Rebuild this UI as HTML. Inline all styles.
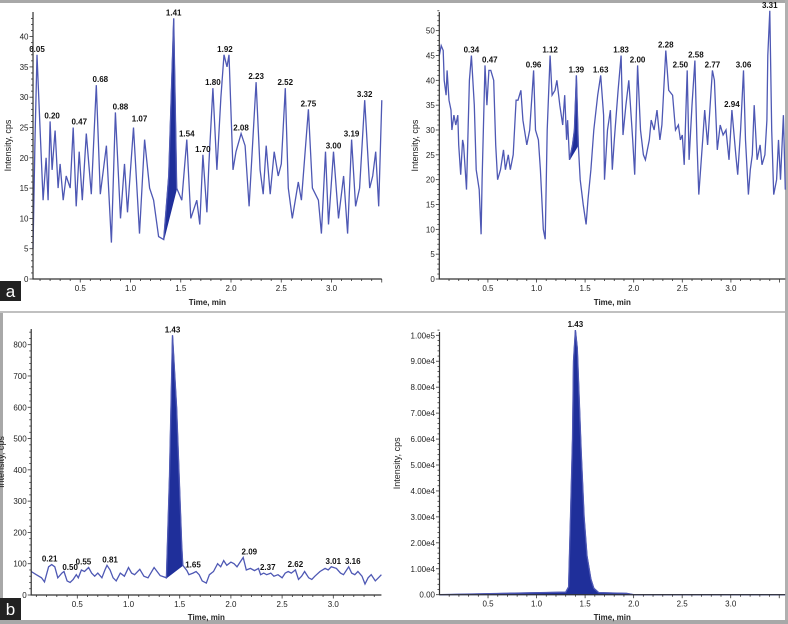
<!DOCTYPE html>
<html><head><meta charset="utf-8"><style>
body{margin:0;background:#fff;}
svg{display:block;font-family:"Liberation Sans",sans-serif;}
</style></head><body>
<svg id="fig" width="788" height="624" viewBox="0 0 788 624">
<rect x="0" y="0" width="788" height="624" fill="#fff"/>
<rect x="0" y="0" width="788" height="3" fill="#a8a8a8"/>
<rect x="0" y="311" width="788" height="2" fill="#c0c0c0"/>
<rect x="785" y="0" width="3" height="624" fill="#b0b0b0"/>
<rect x="0" y="313" width="3" height="311" fill="#a8a8a8"/>
<rect x="0" y="620" width="788" height="4" fill="#a8a8a8"/>
<g id="panels"></g>
<rect x="0" y="281" width="21" height="20" fill="#222"/>
<text x="10.5" y="297" font-size="17" fill="#fff" text-anchor="middle">a</text>
<rect x="0" y="598" width="21" height="22" fill="#222"/>
<text x="10.5" y="615" font-size="17" fill="#fff" text-anchor="middle">b</text>
</svg>
<script>
// Panel a-left
const aLeftT=[0.03,0.05,0.07,0.10,0.13,0.16,0.18,0.20,0.22,0.25,0.28,0.30,0.33,0.36,0.40,0.43,0.46,0.49,0.52,0.56,0.61,0.66,0.70,0.76,0.81,0.85,0.90,0.94,0.97,1.03,1.09,1.14,1.19,1.23,1.28,1.33,1.38,1.43,1.46,1.51,1.56,1.60,1.66,1.69,1.72,1.76,1.78,1.82,1.86,1.90,1.93,1.96,1.98,2.02,2.05,2.10,2.14,2.18,2.25,2.29,2.32,2.35,2.39,2.43,2.47,2.50,2.54,2.57,2.61,2.67,2.70,2.77,2.81,2.87,2.90,2.94,2.97,3.02,3.07,3.12,3.16,3.20,3.24,3.28,3.33,3.38,3.41,3.44,3.47,3.50];
const aLeftV=[5,23,37,25,13,20,13,26,18,24.5,15,19,13,17,15,25,12,21,13,24,14,32,14,22,6,27.5,10,19,11,25,7.5,23,15,13,7,6.5,17,43,15,13,23,10,13,9,20.5,11,19,31.5,18,30,37,35,37,18,21,24,22,12,32.5,18,14,22,14,21,17,19,31.5,15,10,16,13,28,15,13,7.5,21,9,21,10,17,7.5,23,12,15,29.5,15,17,21,12,29.5];
const aLeftLabT=[0.05,0.20,0.47,0.68,0.88,1.07,1.41,1.54,1.70,1.80,1.92,2.08,2.23,2.52,2.75,3.00,3.19,3.32];
const aLeftLabV=[37,26,25,32,27.5,25.5,43,23,20.5,31.5,37,24,32.5,31.5,28,21,23,29.5];
const aLeftLabX=[0.07,0.22,0.49,0.70,0.90,1.09,1.43,1.56,1.72,1.82,1.94,2.10,2.25,2.54,2.77,3.02,3.20,3.33];
// Panel a-right
const aRightT=[0.00,0.02,0.04,0.05,0.07,0.08,0.10,0.12,0.13,0.15,0.17,0.19,0.20,0.22,0.24,0.25,0.28,0.31,0.33,0.36,0.38,0.41,0.43,0.44,0.47,0.49,0.51,0.53,0.56,0.58,0.60,0.63,0.66,0.68,0.71,0.73,0.76,0.79,0.81,0.84,0.86,0.90,0.93,0.97,0.99,1.02,1.04,1.07,1.09,1.11,1.14,1.16,1.19,1.21,1.24,1.27,1.29,1.31,1.32,1.34,1.37,1.39,1.41,1.43,1.45,1.48,1.51,1.53,1.56,1.59,1.63,1.66,1.69,1.70,1.73,1.76,1.78,1.80,1.84,1.87,1.89,1.92,1.95,1.99,2.01,2.04,2.07,2.10,2.12,2.16,2.18,2.21,2.24,2.27,2.29,2.33,2.36,2.40,2.43,2.46,2.48,2.50,2.52,2.55,2.57,2.60,2.63,2.65,2.67,2.71,2.73,2.76,2.81,2.83,2.86,2.89,2.92,2.95,2.98,3.01,3.05,3.07,3.10,3.13,3.15,3.18,3.20,3.22,3.24,3.27,3.30,3.32,3.35,3.37,3.38,3.40,3.42,3.44,3.47,3.49,3.51,3.54,3.56];
const aRightV=[45,47,46,40,37,42,36,34,30,33,31,33,27,21,28,27,18,40,45,35,22,18,9,20,43,35,42,42,40,27,20,22,26,22,25,22,25,36,36,38,32,27,30,42,30,28,22,10,8,30,45,37,38,40,35,31,37,28,32,24,27,30,41,27,20,15,11,16,22,30,37,41,33,20,30,34,22,28,38,45,29,35,40,28,21,43,30,25,24,28,32,30,34,28,31,46,38,37,30,31,28,29,23,42,24,35,44,28,17,28,34,27,42,40,26,31,29,30,24,34,25,21,30,42,28,17,22,25,35,24,27,23,25,32,45,54,30,17,20,28,20,33,18];
const aRightLabT=[0.34,0.47,0.96,1.12,1.39,1.63,1.83,2.00,2.28,2.50,2.58,2.77,2.94,3.06,3.31];
const aRightLabV=[45,43,42,45,41,41,45,43,46,42,44,42,34,42,54];
const aRightLabX=[0.33,0.52,0.97,1.14,1.41,1.66,1.87,2.04,2.33,2.48,2.64,2.81,3.01,3.13,3.40];
// Panel b-left
const bLeftT=[0.05,0.10,0.15,0.18,0.22,0.25,0.28,0.31,0.35,0.37,0.40,0.43,0.46,0.49,0.51,0.54,0.57,0.61,0.64,0.67,0.70,0.74,0.77,0.79,0.82,0.85,0.88,0.92,0.96,1.00,1.03,1.06,1.11,1.15,1.19,1.25,1.31,1.37,1.40,1.43,1.47,1.52,1.53,1.57,1.59,1.63,1.66,1.69,1.72,1.76,1.79,1.83,1.87,1.90,1.93,1.96,2.00,2.03,2.06,2.09,2.12,2.15,2.19,2.23,2.27,2.29,2.32,2.35,2.39,2.42,2.46,2.50,2.53,2.56,2.59,2.63,2.66,2.69,2.72,2.76,2.79,2.82,2.87,2.92,2.95,2.98,3.03,3.07,3.10,3.15,3.18,3.21,3.24,3.28,3.31,3.34,3.37,3.41,3.44,3.47];
const bLeftV=[75,65,55,42,90,97,90,55,70,75,45,40,50,65,55,80,75,88,70,60,70,55,80,95,80,55,45,70,60,88,70,65,82,60,55,88,62,55,380,830,600,160,95,78,65,70,75,65,45,38,65,75,100,90,110,95,105,100,90,105,120,80,85,78,85,65,70,65,70,60,65,55,70,75,70,80,50,60,75,55,50,60,75,85,80,90,85,70,65,90,70,65,75,60,35,55,65,45,55,65];
const bLeftLabT=[0.21,0.50,0.55,0.81,1.43,1.65,2.09,2.37,2.62,3.01,3.16];
const bLeftLabV=[97,70,88,95,830,78,120,70,80,90,90];
const bLeftLabX=[0.23,0.43,0.56,0.82,1.43,1.63,2.18,2.36,2.63,3.00,3.19];
// Panel b-right
const bRightT=[0.00,1.30,1.33,1.35,1.37,1.38,1.40,1.42,1.46,1.49,1.52,1.56,1.59,1.64,1.93,2.00,3.56];
const bRightV=[0,1000,3000,30000,60000,90000,102000,95000,55000,30000,15000,6000,2500,800,500,0,0];
const bRightLabT=[1.43];
const bRightLabV=[102000];
const bRightLabX=[1.40];
// Tick labels
const tickXLabels=["0.5","1.0","1.5","2.0","2.5","3.0"];
const tickXValues=[0.5,1.0,1.5,2.0,2.5,3.0];
const aLeftYTicks=[0,5,10,15,20,25,30,35,40];
const aRightYTicks=[0,5,10,15,20,25,30,35,40,45,50];
const bLeftYTicks=[0,100,200,300,400,500,600,700,800];
const bRightYTicks=[0,10000,20000,30000,40000,50000,60000,70000,80000,90000,100000];
const bRightYLabels=["0.00","1.00e4","2.00e4","3.00e4","4.00e4","5.00e4","6.00e4","7.00e4","8.00e4","9.00e4","1.00e5"];

const NS="http://www.w3.org/2000/svg";
const root=document.getElementById('panels');
function mk(tag,attrs,parent){const e=document.createElementNS(NS,tag);for(const k in attrs)e.setAttribute(k,attrs[k]);parent.appendChild(e);return e;}

function panel(cfg){
  const g=mk('g',{},root);
  
  
  const X=t=>cfg.x0+cfg.sx*t, Y=v=>cfg.y0-cfg.sy*v;
  const xa=X(cfg.tmin), xb=X(cfg.tmax);
  if(cfg.fill){
    const [f0,f1]=cfg.fill;
    let pts=[];
    for(let i=0;i<cfg.T.length;i++){if(cfg.T[i]>=f0-1e-9&&cfg.T[i]<=f1+1e-9)pts.push(X(cfg.T[i]).toFixed(1)+','+Y(cfg.V[i]).toFixed(1));}
    if(!cfg.fillBase){pts.push(X(f1).toFixed(1)+','+Y(0).toFixed(1));pts.unshift(X(f0).toFixed(1)+','+Y(0).toFixed(1));}
    const p=mk('polygon',{points:pts.join(' '),fill:'#1f2f9a',stroke:'#1f2f9a','stroke-width':1},g);
    
    
  }
  const d=cfg.T.map((t,i)=>(i?'L':'M')+X(t).toFixed(1)+' '+Y(cfg.V[i]).toFixed(1)).join(' ');
  const line=mk('path',{d:d,fill:'none',stroke:'#4e58b4','stroke-width':1.3},g);
  
  
  const ax=mk('path',{d:`M${xa} ${cfg.ytop} L${xa} ${cfg.y0} L${xb} ${cfg.y0}`,fill:'none',stroke:'#333','stroke-width':1.2},g);
  
  
  for(let k=1;k<=35;k++){const t=k/10;if(t<cfg.tmin||t>cfg.tmax)continue;
    const tk=mk('line',{x1:X(t),x2:X(t),y1:cfg.y0,y2:cfg.y0+(k%5===0?3.5:2),stroke:'#333','stroke-width':0.8},g);
    
    }
  tickXValues.forEach((t,i)=>{const tx=mk('text',{x:X(t),y:cfg.y0+12,'font-size':8,'text-anchor':'middle',fill:'#222'},g);tx.textContent=tickXLabels[i];
    
    });
  const st=cfg.yticks[1]-cfg.yticks[0];
  for(let v=0;v<=cfg.ymax+1e-9;v+=st/5){
    const major=Math.abs(v/st-Math.round(v/st))<1e-6;
    const tk=mk('line',{x1:xa-(major?3.5:2),x2:xa,y1:Y(v),y2:Y(v),stroke:'#333','stroke-width':0.8},g);
    
    }
  cfg.yticks.forEach((v,i)=>{const tx=mk('text',{x:xa-4.5,y:Y(v)+3,'font-size':8,'text-anchor':'end',fill:'#222'},g);tx.textContent=cfg.ylabels?cfg.ylabels[i]:String(v);
    
    });
  const yt=mk('text',{x:cfg.ytx,y:(cfg.ytop+cfg.y0)/2,'font-size':9,'text-anchor':'middle',fill:'#222',transform:`rotate(-90 ${cfg.ytx} ${(cfg.ytop+cfg.y0)/2})`},g);
  yt.textContent='Intensity, cps';
  
  
  const xt=mk('text',{x:(xa+xb)/2,y:cfg.xty,'font-size':8,'text-anchor':'middle',fill:'#222','font-weight':'bold'},g);
  xt.textContent='Time, min';
  
  
  cfg.labT.forEach((t,i)=>{const tx=mk('text',{x:X(cfg.labX[i]),y:Y(cfg.labV[i])-3,'font-size':8,'text-anchor':'middle',fill:'#111','font-weight':'bold'},g);
    tx.textContent=t.toFixed(2);
    
    });
}
panel({name:'panel-a-left',x0:30,sx:100.5,y0:279,sy:6.06,ytop:12,tmin:0.03,tmax:3.50,ymax:43,yticks:aLeftYTicks,ytx:11,xty:305,T:aLeftT,V:aLeftV,labT:aLeftLabT,labV:aLeftLabV,labX:aLeftLabX,fill:[1.33,1.46],fillBase:true});
panel({name:'panel-a-right',x0:439.3,sx:97.2,y0:279,sy:4.967,ytop:12,tmin:0.0,tmax:3.56,ymax:54,yticks:aRightYTicks,ytx:418,xty:305,T:aRightT,V:aRightV,labT:aRightLabT,labV:aRightLabV,labX:aRightLabX,fill:[1.34,1.43],fillBase:true});
panel({name:'panel-b-left',x0:26.1,sx:102.4,y0:595,sy:0.3129,ytop:329,tmin:0.05,tmax:3.47,ymax:840,yticks:bLeftYTicks,ytx:4,xty:620,T:bLeftT,V:bLeftV,labT:bLeftLabT,labV:bLeftLabV,labX:bLeftLabX,fill:[1.37,1.53],fillBase:true});
panel({name:'panel-b-right',x0:439.5,sx:97.07,y0:594.7,sy:0.002594,ytop:332,tmin:0.0,tmax:3.56,ymax:102000,yticks:bRightYTicks,ylabels:bRightYLabels,ytx:400,xty:620,T:bRightT,V:bRightV,labT:bRightLabT,labV:bRightLabV,labX:bRightLabX,fill:[0.0,3.56],fillBase:false});
</script>
</body></html>
